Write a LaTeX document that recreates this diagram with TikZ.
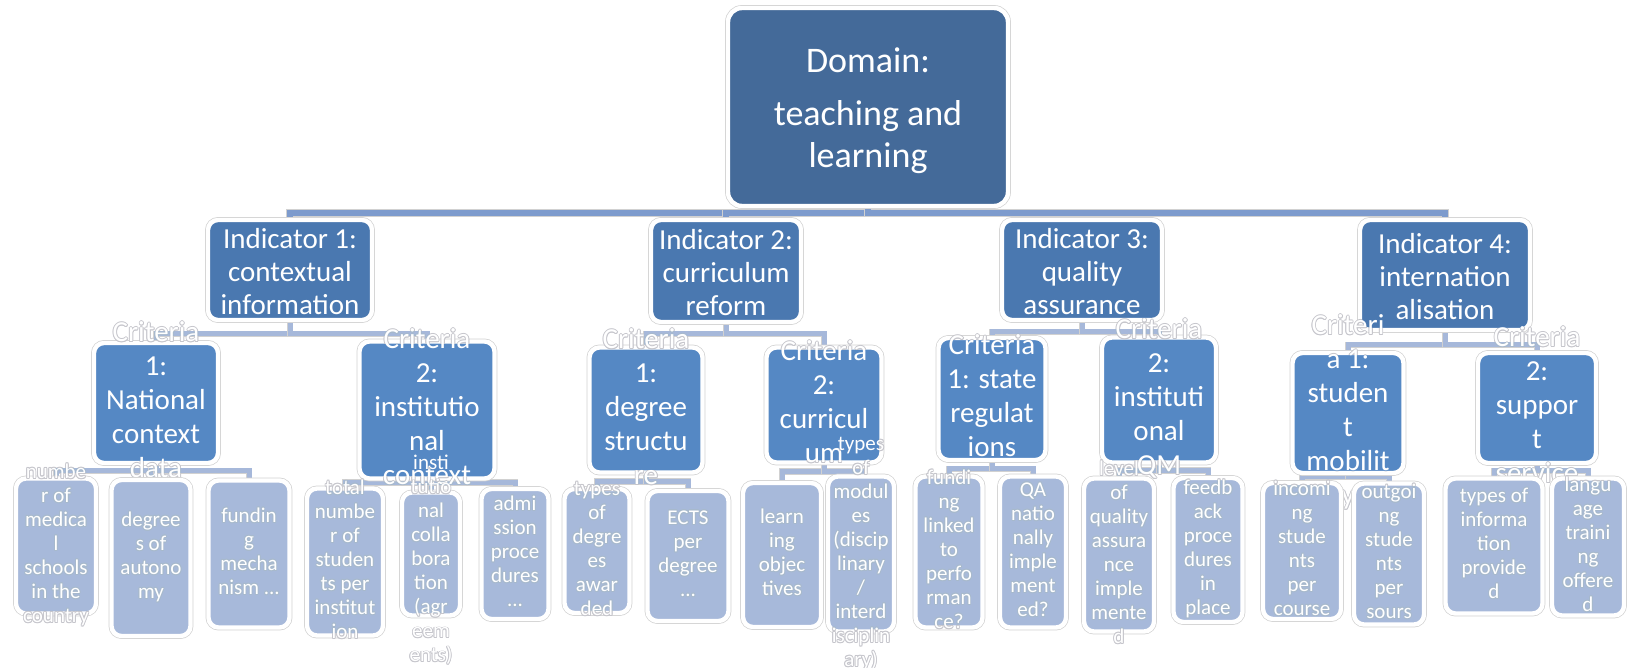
\documentclass[tikz,border=0pt]{standalone}
\usepackage{fontspec}
\setmainfont{Carlito}
\usepackage{tikz}
\usetikzlibrary{backgrounds}
\definecolor{domblue}{RGB}{68,106,153}
\definecolor{indblue}{RGB}{74,120,176}
\definecolor{critblue}{RGB}{85,136,196}
\definecolor{leafblue}{RGB}{167,185,218}
\definecolor{barblue}{RGB}{125,155,205}
\definecolor{linkblue}{RGB}{166,184,218}
\definecolor{halo}{RGB}{198,198,204}
\makeatletter
\newcommand\tabl[1]{\begin{tabular}{@{}c@{}}#1\end{tabular}}
\newcommand\cpy[3]{\rlap{\hspace*{#1}\raisebox{#2}{\tabl{#3}}}}
\newcommand\ovl[2][-.25em]{\makebox[0pt]{\smash{\raisebox{#1}{%
  \pgfsys@beginscope\pgfsetblendmode{darken}{\color{halo}%
  \cpy{.45pt}{0pt}{#2}\cpy{-.45pt}{0pt}{#2}\cpy{0pt}{.45pt}{#2}\cpy{0pt}{-.45pt}{#2}%
  \cpy{.32pt}{.32pt}{#2}\cpy{-.32pt}{.32pt}{#2}\cpy{.32pt}{-.32pt}{#2}\cpy{-.32pt}{-.32pt}{#2}}%
  \pgfsys@endscope\tabl{#2}}}}}
\makeatother
\tikzset{
  sz/.style 2 args={minimum width=#1pt/2, minimum height=#2pt/2},
  box/.style={rounded corners=5pt, draw=white, line width=2.2pt, outer sep=0pt, inner sep=0pt, text=white,
    preaction={draw=black!18, line width=2.9pt}},
  dombox/.style={box, fill=domblue, rounded corners=7pt, font=\fontsize{18}{21}\selectfont},
  indbox/.style={box, fill=indblue, font=\fontsize{14.5}{16.5}\selectfont},
  critbox/.style={box, fill=critblue, font=\fontsize{14.5}{17}\selectfont},
  leafbox/.style={box, fill=leafblue, font=\fontsize{10.5}{12}\selectfont},
  bar/.style={draw=barblue, line width=3pt, preaction={draw=black!18, line width=3.7pt}},
  link/.style={draw=linkblue, line width=2.5pt, preaction={draw=black!18, line width=3.2pt}}
}

\begin{document}
\begin{tikzpicture}[x=0.5pt,y=-0.5pt]
\useasboundingbox (0,0) rectangle (1630,668);

\node[dombox, sz={280}{198}] (dom) at (868,107) {\ovl[-.36em]{Domain:\\[5.5pt]teaching and\\learning}};

\node[indbox, sz={164}{100}] (ind1) at (290,270) {\ovl[-.43em]{Indicator 1:\\contextual\\information}};
\node[indbox, sz={150}{102}] (ind2) at (726,271) {\ovl[-.43em]{Indicator 2:\\curriculum\\reform}};
\node[indbox, sz={160}{100}] (ind3) at (1082,270) {\ovl[-.43em]{Indicator 3:\\quality\\assurance}};
\node[indbox, sz={170}{110}] (ind4) at (1445,275) {\ovl[-.43em]{Indicator 4:\\internation\\alisation}};

\node[critbox, sz={124}{120}] (c11) at (156,403) {\ovl{Criteria\\1:\\National\\context\\data}};
\node[critbox, sz={135}{137}] (c12) at (427,410) {\ovl{Criteria\\2:\\institutio\\nal\\context}};
\node[critbox, sz={113}{125}] (c21) at (646,410) {\ovl{Criteria\\1:\\degree\\structu\\re}};
\node[critbox, sz={115}{115}] (c22) at (824,405) {\ovl{Criteria\\2:\\curricul\\um}};
\node[critbox, sz={107}{122}] (c31) at (992,399) {\ovl{Criteria\\1: state\\regulat\\ions}};
\node[critbox, sz={114}{125}] (c32) at (1159,400) {\ovl{Criteria\\2:\\instituti\\onal\\QM}};
\node[critbox, sz={111}{120}] (c41) at (1348,413) {\ovl{Criteri\\a 1:\\studen\\t\\mobilit\\y}};
\node[critbox, sz={118}{110}] (c42) at (1537,408) {\ovl{Criteria\\2:\\suppor\\t\\service}};

\node[leafbox, sz={80}{135}] (l1) at (56,546) {\ovl{numbe\\r of\\medica\\l\\schools\\in the\\country}};
\node[leafbox, sz={79}{156}] (l2) at (151,558) {\ovl{degree\\s of\\autono\\my}};
\node[leafbox, sz={81}{147}] (l3) at (249,554) {\ovl{fundin\\g\\mecha\\nism ...}};
\node[leafbox, sz={76}{147}] (l4) at (345,562) {\ovl{total\\numbe\\r of\\studen\\ts per\\institut\\ion}};
\node[leafbox, sz={58}{123}] (l5) at (431,554) {\ovl[-.6em]{insti\\tutio\\nal\\colla\\bora\\tion\\(agr\\eem\\ents)}};
\node[leafbox, sz={67}{130}] (l6) at (515,554) {\ovl{admi\\ssion\\proce\\dures\\...}};
\node[leafbox, sz={65}{124}] (l7) at (597,551) {\ovl{types\\of\\degre\\es\\awar\\ded}};
\node[leafbox, sz={81}{130}] (l8) at (688,556) {\ovl{ECTS\\per\\degree\\...}};
\node[leafbox, sz={78}{144}] (l9) at (782,555) {\ovl{learn\\ing\\objec\\tives}};
\node[leafbox, sz={66}{155}] (l10) at (861,554) {\ovl{types\\of\\modul\\es\\(discip\\linary\\/\\interd\\isciplin\\ary)}};
\node[leafbox, sz={67}{151}] (l11) at (949,552) {\ovl{fundi\\ng\\linked\\to\\perfo\\rman\\ce?}};
\node[leafbox, sz={66}{151}] (l12) at (1033,552) {\ovl{QA\\natio\\nally\\imple\\ment\\ed?}};
\node[leafbox, sz={70}{153}] (l13) at (1119,555) {\ovl{level\\of\\quality\\assura\\nce\\imple\\mente\\d}};
\node[leafbox, sz={69}{144}] (l14) at (1208,550) {\ovl{feedb\\ack\\proce\\dures\\in\\place}};
\node[leafbox, sz={78}{136}] (l15) at (1302,551) {\ovl{incomi\\ng\\stude\\nts\\per\\course}};
\node[leafbox, sz={70}{141}] (l16) at (1389,554) {\ovl{outgoi\\ng\\stude\\nts\\per\\sours}};
\node[leafbox, sz={97}{135}] (l17) at (1494,546) {\ovl{types of\\informa\\tion\\provide\\d}};
\node[leafbox, sz={72}{137}] (l18) at (1588,547) {\ovl{langu\\age\\traini\\ng\\offere\\d}};

\begin{pgfonlayer}{background}
\draw[bar] (dom.south) -- ++(0,7) -| (ind1.north);
\draw[bar] (dom.south) -- ++(0,7) -| (ind2.north);
\draw[bar] (dom.south) -- ++(0,7) -| (ind3.north);
\draw[bar] (dom.south) -- ++(0,7) -| (ind4.north);

\draw[link] (ind1.south) -- ++(0,14) -| (c11.north);
\draw[link] (ind1.south) -- ++(0,14) -| (c12.north);
\draw[link] (ind2.south) -- ++(0,12) -| (c21.north);
\draw[link] (ind2.south) -- ++(0,12) -| (c22.north);
\draw[link] (ind3.south) -- ++(0,12) -| (c31.north);
\draw[link] (ind3.south) -- ++(0,12) -| (c32.north);
\draw[link] (ind4.south) -- ++(0,15) -| (c41.north);
\draw[link] (ind4.south) -- ++(0,15) -| (c42.north);

\draw[link] (c11.south) -- ++(0,8) -| (l1.north);
\draw[link] (c11.south) -- ++(0,8) -| (l2.north);
\draw[link] (c11.south) -- ++(0,8) -| (l3.north);
\draw[link] (c12.south) -- ++(0,4) -| (l4.north);
\draw[link] (c12.south) -- ++(0,4) -| (l5.north);
\draw[link] (c12.south) -- ++(0,4) -| (l6.north);
\draw[link] (c21.south) -- ++(0,9) -| (l7.north);
\draw[link] (c21.south) -- ++(0,9) -| (l8.north);
\draw[link] (c22.south) -- ++(0,9) -| (l9.north);
\draw[link] (c22.south) -- ++(0,9) -| (l10.north);
\draw[link] (c31.south) -- ++(0,9) -| (l11.north);
\draw[link] (c31.south) -- ++(0,9) -| (l12.north);
\draw[link] (c32.south) -- ++(0,8) -| (l13.north);
\draw[link] (c32.south) -- ++(0,8) -| (l14.north);
\draw[link] (c41.south) -- ++(0,4) -| (l15.north);
\draw[link] (c41.south) -- ++(0,4) -| (l16.north);
\draw[link] (c42.south) -- ++(0,8) -| (l17.north);
\draw[link] (c42.south) -- ++(0,8) -| (l18.north);
\end{pgfonlayer}
\end{tikzpicture}
\end{document}
